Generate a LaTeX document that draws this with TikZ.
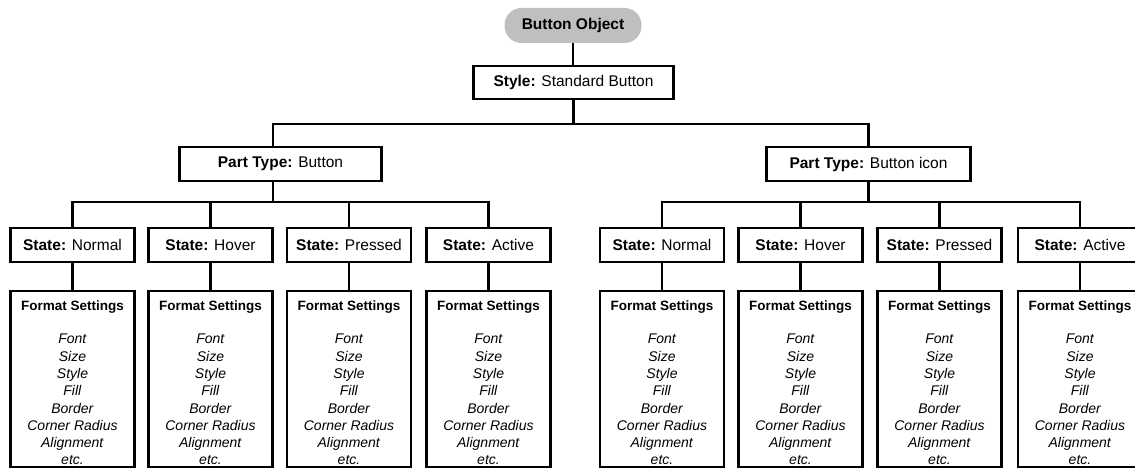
\documentclass[tikz,border=0pt]{standalone}
\usepackage{fontspec}
\setmainfont{Liberation Sans}
\newcommand\fmtcontent{\rule{0pt}{18pt}{\fontsize{13.5}{17.3}\selectfont\bfseries Format Settings}\\[15.7pt]
\textit{Font}\\\textit{Size}\\\textit{Style}\\\textit{Fill}\\\textit{Border}\\\textit{Corner Radius}\\\textit{Alignment}\\\textit{etc.}}
\begin{document}
\begin{tikzpicture}[x=1pt,y=1pt]
\tikzset{
  box/.style={draw, line width=2.5pt, inner sep=0pt, minimum height=34pt,
    font=\fontsize{15.5}{18}\selectfont},
  statebox/.style={box, minimum width=124pt},
  fmtbox/.style={draw, line width=2.5pt, inner sep=0pt, minimum width=124pt,
    minimum height=175.5pt, align=center, font=\fontsize{14}{17.3}\selectfont},
  pill/.style={fill=gray!50, rounded corners=17pt, minimum width=137pt,
    minimum height=35pt, inner sep=0pt, font=\fontsize{15.5}{18}\selectfont},
  conn/.style={line width=2.2pt}
}
\useasboundingbox (0,0) rectangle (1135,-470);
\clip (0,0) rectangle (1135,-470);
% top
\node[pill] (obj) at (573,-25.5) {\textbf{Button Object}};
\node[box, minimum width=200pt, minimum height=33pt] (style) at (573.5,-82.5) {\textbf{Style:} Standard Button};
\node[box, minimum width=202pt] (ptL) at (280.5,-164) {\textbf{Part Type:} Button};
\node[box, minimum width=204pt] (ptR) at (868.5,-164) {\textbf{Part Type:} Button icon};
% states
\node[statebox] (sL1) at (72.5,-245) {\textbf{State:} Normal};
\node[statebox] (sL2) at (210.5,-245) {\textbf{State:} Hover};
\node[statebox] (sL3) at (349,-245) {\textbf{State:} Pressed};
\node[statebox] (sL4) at (488.5,-245) {\textbf{State:} Active};
\node[statebox] (sR1) at (662,-245) {\textbf{State:} Normal};
\node[statebox] (sR2) at (800.5,-245) {\textbf{State:} Hover};
\node[statebox] (sR3) at (939.5,-245) {\textbf{State:} Pressed};
\node[statebox] (sR4) at (1080,-245) {\textbf{State:} Active};
% format settings
\node[fmtbox] (fL1) at (72.5,-379) {\fmtcontent};
\node[fmtbox] (fL2) at (210.5,-379) {\fmtcontent};
\node[fmtbox] (fL3) at (349,-379) {\fmtcontent};
\node[fmtbox] (fL4) at (488.5,-379) {\fmtcontent};
\node[fmtbox] (fR1) at (662,-379) {\fmtcontent};
\node[fmtbox] (fR2) at (800.5,-379) {\fmtcontent};
\node[fmtbox] (fR3) at (939.5,-379) {\fmtcontent};
\node[fmtbox] (fR4) at (1080,-379) {\fmtcontent};
% connectors
\coordinate (topbar) at (573.5,-124);
\coordinate (lbar) at (273,-202);
\coordinate (rbar) at (868.5,-202);
\draw[conn] (obj.south) -- (obj.south |- style.north);
\draw[conn] (style.south) -- (topbar);
\draw[conn] ([xshift=-7.5pt]ptL.north) |- (topbar) -| (ptR.north);
\draw[conn] ([xshift=-7.5pt]ptL.south) -- (lbar);
\draw[conn] (sL1.north) |- (lbar) -| (sL4.north);
\draw[conn] (sL2.north) -- (sL2.north |- lbar);
\draw[conn] (sL3.north) -- (sL3.north |- lbar);
\draw[conn] (ptR.south) -- (rbar);
\draw[conn] (sR1.north) |- (rbar) -| (sR4.north);
\draw[conn] (sR2.north) -- (sR2.north |- rbar);
\draw[conn] (sR3.north) -- (sR3.north |- rbar);
\foreach \i in {L1,L2,L3,L4,R1,R2,R3,R4}
  \draw[conn] (s\i.south) -- (f\i.north);
\end{tikzpicture}
\end{document}
